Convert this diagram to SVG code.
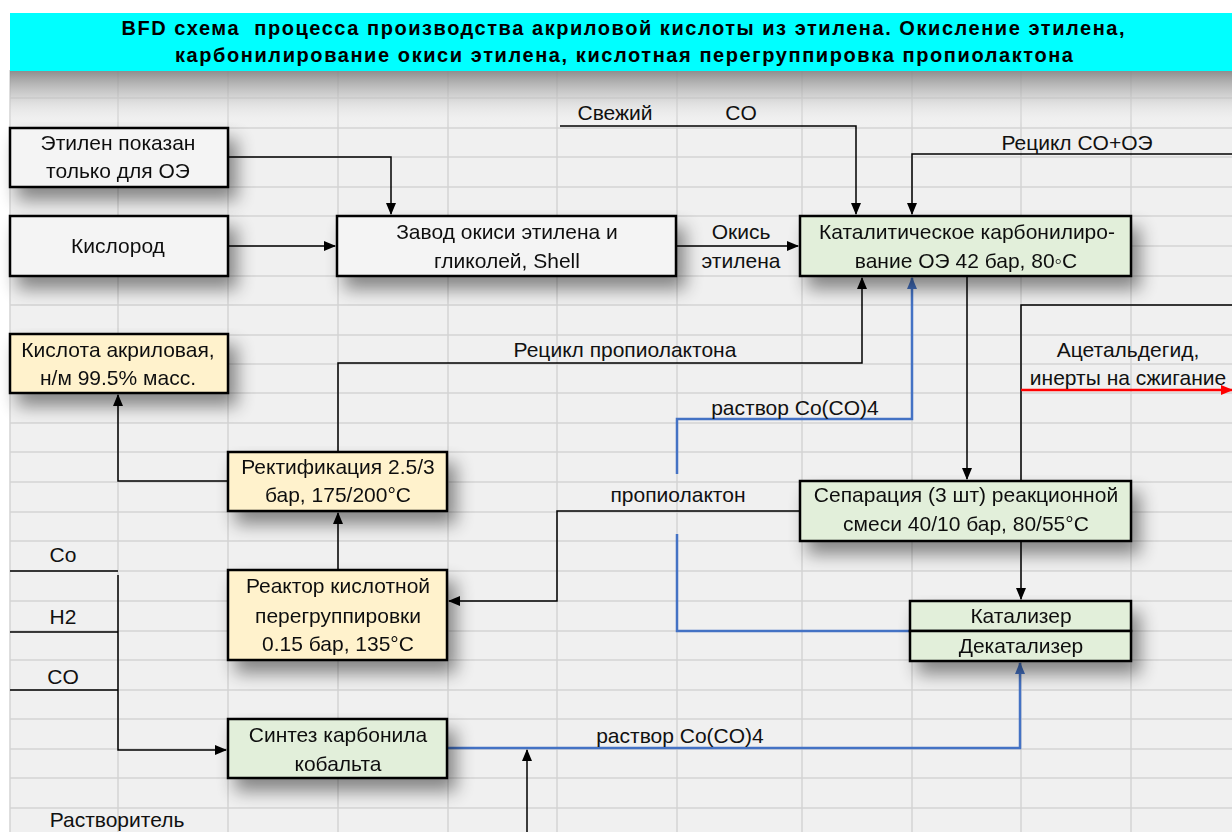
<svg xmlns="http://www.w3.org/2000/svg" width="1232" height="832" viewBox="0 0 1232 832">
<defs>
<style>
.t{font-family:"Liberation Sans",Arial,sans-serif;font-size:21px;fill:#111;text-anchor:middle}
.tt{font-family:"Liberation Sans",Arial,sans-serif;font-size:20px;font-weight:bold;fill:#000;text-anchor:middle;white-space:pre}
.box{stroke:#000;stroke-width:2.5}
.w{fill:#f4f4f4}
.y{fill:#fff2cc}
.g{fill:#e2efda}
.c{fill:none;stroke:#000;stroke-width:1.5}
.b{fill:none;stroke:#4472c4;stroke-width:2.5}
.r{fill:none;stroke:#ff0000;stroke-width:2.5}
.grid{stroke:#d4d4d4;stroke-width:1.5}
</style>
<marker id="ak" markerWidth="12" markerHeight="10" refX="11" refY="5" orient="auto" markerUnits="userSpaceOnUse"><path d="M0,0 L12,5 L0,10 z" fill="#000"/></marker>
<marker id="ab" markerWidth="12" markerHeight="10" refX="11" refY="5" orient="auto" markerUnits="userSpaceOnUse"><path d="M0,0 L12,5 L0,10 z" fill="#4472c4"/></marker>
<marker id="ar" markerWidth="12" markerHeight="10" refX="11" refY="5" orient="auto" markerUnits="userSpaceOnUse"><path d="M0,0 L12,5 L0,10 z" fill="#ff0000"/></marker>
<filter id="sh" x="-20%" y="-30%" width="150%" height="180%"><feGaussianBlur in="SourceAlpha" stdDeviation="9"/><feOffset dx="8" dy="12"/><feComponentTransfer><feFuncA type="linear" slope="0.45"/></feComponentTransfer><feMerge><feMergeNode/><feMergeNode in="SourceGraphic"/></feMerge></filter>
<linearGradient id="tg" x1="0" y1="0" x2="0" y2="1"><stop offset="0" stop-color="#808080" stop-opacity="0.9"/><stop offset="0.5" stop-color="#c4c4c4" stop-opacity="0.55"/><stop offset="1" stop-color="#ffffff" stop-opacity="0"/></linearGradient>
</defs>
<rect x="0" y="0" width="1232" height="832" fill="#ffffff"/>
<rect x="10" y="70" width="1222" height="762" fill="#f0f0f0"/>
<g id="grid" class="grid">
<path d="M10,70V832 M118,70V832 M228,70V832 M338,70V832 M448,70V832 M557,70V832 M677,70V832 M802,70V832 M912,70V832 M1021,70V832 M1131,70V832"/>
<path d="M10,98H1232 M10,128H1232 M10,157H1232 M10,187H1232 M10,216H1232 M10,246H1232 M10,276H1232 M10,305H1232 M10,335H1232 M10,364H1232 M10,393H1232 M10,423H1232 M10,452H1232 M10,482H1232 M10,512H1232 M10,541H1232 M10,571H1232 M10,601H1232 M10,631H1232 M10,660H1232 M10,690H1232 M10,719H1232 M10,749H1232 M10,778H1232 M10,808H1232"/>
</g>
<rect x="10" y="70" width="1222" height="58" fill="url(#tg)"/>
<g id="title">
<rect x="10" y="13" width="1222" height="58" fill="#00ffff"/>
<text class="tt" x="623" y="35" textLength="1003" lengthAdjust="spacing" xml:space="preserve">BFD схема  процесса производства акриловой кислоты из этилена. Окисление этилена,</text>
<text class="tt" x="624" y="62" textLength="898" lengthAdjust="spacing">карбонилирование окиси этилена, кислотная перегруппировка пропиолактона</text>
</g>
<g id="connectors">
<path class="c" d="M228,157 H391 V214" marker-end="url(#ak)"/>
<path class="c" d="M228,246 H335" marker-end="url(#ak)"/>
<path class="c" d="M676,246 H798" marker-end="url(#ak)"/>
<path class="c" d="M560,126 H856 V214" marker-end="url(#ak)"/>
<path class="c" d="M1232,154 H912 V214" marker-end="url(#ak)"/>
<path class="c" d="M338,452 V363 H862 V278" marker-end="url(#ak)"/>
<path class="b" d="M677,474 V419 H912 V278" marker-end="url(#ab)"/>
<path class="b" d="M910,631 H677 V534"/>
<path class="c" d="M967,276 V479" marker-end="url(#ak)"/>
<path class="c" d="M1021,481 V305 H1232"/>
<path class="r" d="M1021,390 H1232" marker-end="url(#ar)"/>
<path class="c" d="M800,511 H557 V601 H449" marker-end="url(#ak)"/>
<path class="c" d="M338,570 V513" marker-end="url(#ak)"/>
<path class="c" d="M228,481 H118 V395" marker-end="url(#ak)"/>
<path class="c" d="M1021,541 V599" marker-end="url(#ak)"/>
<path class="c" d="M10,571 H118 M10,632 H118 M10,690 H118"/>
<path class="c" d="M118,575 V750 H226" marker-end="url(#ak)"/>
<path class="b" d="M447,748 H1020 V663" marker-end="url(#ab)"/>
<path class="c" d="M527,832 V750" marker-end="url(#ak)"/>
</g>
<g id="labels">
<text class="t" x="615" y="120">Свежий</text>
<text class="t" x="741" y="120">CO</text>
<text class="t" x="1077" y="150">Рецикл CO+OЭ</text>
<text class="t" x="741" y="239">Окись</text>
<text class="t" x="741" y="268">этилена</text>
<text class="t" x="625" y="357">Рецикл пропиолактона</text>
<text class="t" x="1128" y="357">Ацетальдегид,</text>
<text class="t" x="1128" y="385">инерты на сжигание</text>
<text class="t" x="795" y="415">раствор Co(CO)4</text>
<text class="t" x="678" y="502">пропиолактон</text>
<text class="t" x="63" y="562">Co</text>
<text class="t" x="63" y="624">H2</text>
<text class="t" x="63" y="684">CO</text>
<text class="t" x="680" y="743">раствор Co(CO)4</text>
<text class="t" x="117" y="827">Растворитель</text>
</g>
<g id="n-ethylene" filter="url(#sh)">
<rect class="box w" x="10" y="128" width="218" height="59"/>
<text class="t" x="118" y="150">Этилен показан</text>
<text class="t" x="118" y="178">только для ОЭ</text>
</g>
<g id="n-oxygen" filter="url(#sh)">
<rect class="box w" x="10" y="216" width="218" height="60"/>
<text class="t" x="118" y="253">Кислород</text>
</g>
<g id="n-eo-plant" filter="url(#sh)">
<rect class="box w" x="337" y="216" width="339" height="60"/>
<text class="t" x="507" y="239">Завод окиси этилена и</text>
<text class="t" x="507" y="268">гликолей, Shell</text>
</g>
<g id="n-carbonylation" filter="url(#sh)">
<rect class="box g" x="800" y="216" width="331" height="60"/>
<text class="t" x="967" y="239">Каталитическое карбонилиро-</text>
<text class="t" x="966" y="268">вание ОЭ 42 бар, 80◦C</text>
</g>
<g id="n-acid" filter="url(#sh)">
<rect class="box y" x="10" y="334" width="218" height="59"/>
<text class="t" x="118" y="357">Кислота акриловая,</text>
<text class="t" x="118" y="385">н/м 99.5% масс.</text>
</g>
<g id="n-rect" filter="url(#sh)">
<rect class="box y" x="228" y="452" width="219" height="59"/>
<text class="t" x="338" y="474">Ректификация 2.5/3</text>
<text class="t" x="338" y="502">бар, 175/200°C</text>
</g>
<g id="n-separation" filter="url(#sh)">
<rect class="box g" x="800" y="481" width="331" height="60"/>
<text class="t" x="966" y="502">Сепарация (3 шт) реакционной</text>
<text class="t" x="966" y="531">смеси 40/10 бар, 80/55°C</text>
</g>
<g id="n-reactor" filter="url(#sh)">
<rect class="box y" x="228" y="570" width="219" height="90"/>
<text class="t" x="338" y="593">Реактор кислотной</text>
<text class="t" x="338" y="623">перегруппировки</text>
<text class="t" x="338" y="651">0.15 бар, 135°C</text>
</g>
<g id="n-catalyzer" filter="url(#sh)">
<rect class="box g" x="910" y="601" width="221" height="30"/>
<text class="t" x="1021" y="623">Катализер</text>
<rect class="box g" x="910" y="631" width="221" height="30"/>
<text class="t" x="1021" y="653">Декатализер</text>
</g>
<g id="n-synthesis" filter="url(#sh)">
<rect class="box g" x="228" y="719" width="219" height="59"/>
<text class="t" x="338" y="742">Синтез карбонила</text>
<text class="t" x="338" y="771">кобальта</text>
</g>
</svg>
